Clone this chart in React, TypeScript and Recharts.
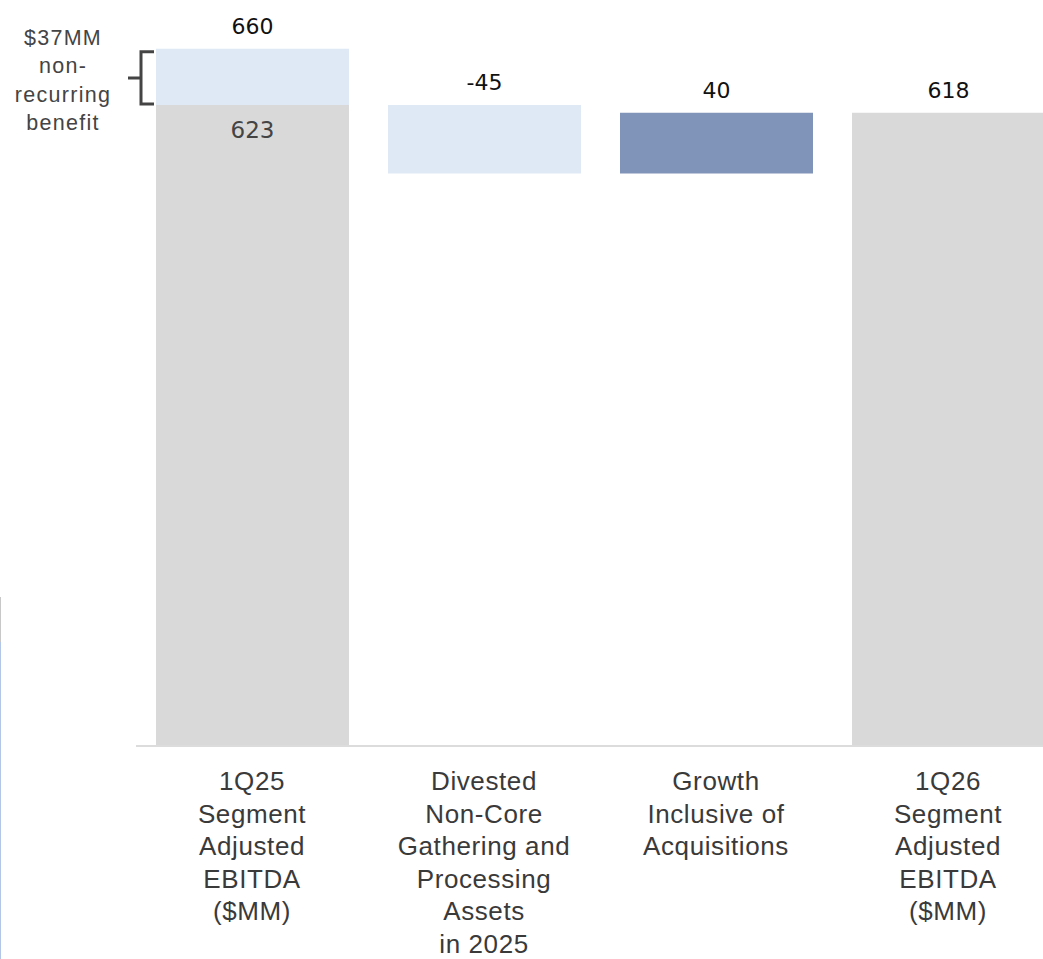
import { BarChart, Bar, XAxis, YAxis, LabelList } from 'recharts';

const categories = [
  '1Q25\nSegment\nAdjusted\nEBITDA\n($MM)',
  'Divested\nNon-Core\nGathering and\nProcessing\nAssets\nin 2025',
  'Growth\nInclusive of\nAcquisitions',
  '1Q26\nSegment\nAdjusted\nEBITDA\n($MM)',
];
// invisible offset under the floating bars
const offsetValues = [0, 578, 578, 0];
const totalValues = [623, 0, 0, 618];
const lightValues = [37, 45, 0, 0];
const growthValues = [0, 0, 40, 0];
const topLabels = ['660', '-45', '40', '618'];
const innerLabels = ['623', '', '', ''];
const noteLines = ['$37MM', 'non-', 'recurring', 'benefit'];

const stackOrder = ['offset', 'total', 'light', 'growth'] as const;

const data = categories.map((name, i) => {
  const row: any = {
    name,
    offset: offsetValues[i],
    total: totalValues[i],
    light: lightValues[i],
    growth: growthValues[i],
  };
  let top = '';
  stackOrder.forEach((k) => {
    if (row[k] > 0) top = k;
  });
  row.totalTop = top === 'total' ? topLabels[i] : '';
  row.lightTop = top === 'light' ? topLabels[i] : '';
  row.growthTop = top === 'growth' ? topLabels[i] : '';
  row.inner = innerLabels[i];
  row.note = i === 0 ? 'note' : '';
  return row;
});

const SANS = '"Liberation Sans", Arial, sans-serif';
const NUM = '"DejaVu Sans", sans-serif';
const GRAY = '#d9d9d9';
const LIGHT = '#dee9f5';
const DARK = '#8093b8';

function TopText({ x, y, width, value }: any) {
  if (!value) return null;
  return (
    <text x={x + width / 2} y={y - 15} textAnchor="middle" fontSize={22} fontFamily={NUM} fill="#111">
      {value}
    </text>
  );
}

function InnerText({ x, y, width, value }: any) {
  if (!value) return null;
  return (
    <text x={x + width / 2} y={y + 33} textAnchor="middle" fontSize={23} fontFamily={NUM} fill="#444">
      {value}
    </text>
  );
}

function NoteBracket({ x, y, height, value }: any) {
  if (!value) return null;
  const bx = x - 15;
  const y1 = y + 3;
  const y2 = y + height - 1;
  const mid = (y1 + y2) / 2;
  return (
    <g>
      <path
        d={`M${x - 2},${y1} L${bx},${y1} L${bx},${y2} L${x - 2},${y2} M${bx},${mid} L${bx - 13},${mid}`}
        stroke="#444"
        strokeWidth={3}
        fill="none"
      />
      {noteLines.map((t, i) => (
        <text key={i} x={x - 93} y={y - 4 + i * 28.5} textAnchor="middle" fontSize={21.5} fontFamily={SANS} letterSpacing={1.3} fill="#444">
          {t}
        </text>
      ))}
    </g>
  );
}

function CategoryTick({ x, y, payload }: any) {
  const lines = String(payload.value).split('\n');
  return (
    <g transform={`translate(${x},${y})`}>
      {lines.map((line, i) => (
        <text key={i} x={0} y={44 + i * 32.6} textAnchor="middle" fontSize={26} letterSpacing={0.6} fontFamily={SANS} fill="#3a3a3a">
          {line}
        </text>
      ))}
    </g>
  );
}

export default function App() {
  return (
    <div style={{ position: 'fixed', left: 0, top: 0, width: 1043, height: 959, overflow: 'hidden', background: '#fff' }}>
      <div style={{ position: 'absolute', left: 0, top: 597, width: 1, height: 45, background: '#c8c8c8' }} />
      <div style={{ position: 'absolute', left: 0, top: 642, width: 1, height: 317, background: '#b4c6e7' }} />
      <BarChart
        width={1100}
        height={959}
        data={data}
        margin={{ top: 0, right: 36, bottom: 13, left: 136 }}
        barSize={193}
      >
        <XAxis
          dataKey="name"
          interval={0}
          height={200}
          tickSize={0}
          tickMargin={0}
          tickLine={false}
          axisLine={{ stroke: '#dcdcdc', strokeWidth: 2 }}
          tick={<CategoryTick />}
        />
        <YAxis hide domain={[202, 692]} allowDataOverflow />
        <Bar dataKey="offset" stackId="w" fill="transparent" isAnimationActive={false} />
        <Bar dataKey="total" stackId="w" fill={GRAY} isAnimationActive={false}>
          <LabelList dataKey="totalTop" content={<TopText />} />
          <LabelList dataKey="inner" content={<InnerText />} />
        </Bar>
        <Bar dataKey="light" stackId="w" fill={LIGHT} isAnimationActive={false}>
          <LabelList dataKey="lightTop" content={<TopText />} />
          <LabelList dataKey="note" content={<NoteBracket />} />
        </Bar>
        <Bar dataKey="growth" stackId="w" fill={DARK} isAnimationActive={false}>
          <LabelList dataKey="growthTop" content={<TopText />} />
        </Bar>
      </BarChart>
    </div>
  );
}
